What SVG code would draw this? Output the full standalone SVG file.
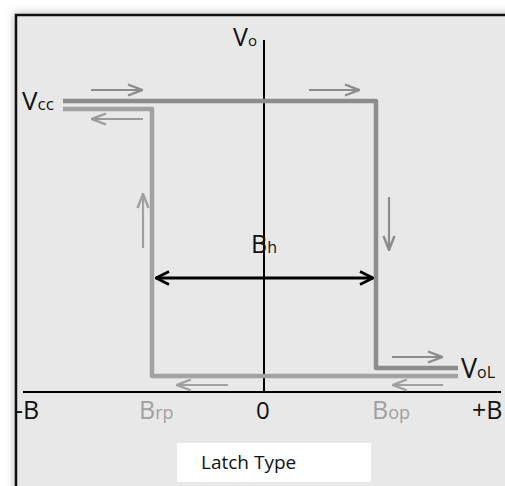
<svg xmlns="http://www.w3.org/2000/svg" width="505" height="486" viewBox="0 0 505 486">
<defs>
<filter id="sh" x="-10%" y="-10%" width="120%" height="120%"><feGaussianBlur stdDeviation="4"/></filter>
<marker id="ga" viewBox="0 0 16 14" refX="15" refY="7" markerWidth="16" markerHeight="14" markerUnits="userSpaceOnUse" orient="auto"><path d="M1,1.5 L15,7 L1,12.5" fill="none" stroke="context-stroke" stroke-width="2.4"/></marker>
<marker id="ba" viewBox="0 0 16 16" refX="15" refY="8" markerWidth="16" markerHeight="16" markerUnits="userSpaceOnUse" orient="auto-start-reverse"><path d="M2,1.5 L15,8 L2,14.5" fill="none" stroke="#000" stroke-width="2.8"/></marker>
<style>
.t{font-family:"Open Sans","Noto Sans","DejaVu Sans",sans-serif;fill:#111;font-weight:500}
.g{fill:#a0a0a0}
.loop{fill:none;stroke-width:4.5;stroke-linejoin:round}
.arr{stroke-width:2.2;fill:none}
</style>
</defs>
<rect x="0" y="0" width="505" height="486" fill="#fff"/>
<rect x="14" y="13" width="500" height="480" fill="#bbb" filter="url(#sh)"/>
<rect x="16" y="15" width="500" height="480" fill="#e8e8e8" stroke="#111" stroke-width="2.5"/>
<g id="axes">
<line x1="264" y1="40" x2="264" y2="392" stroke="#000" stroke-width="2"/>
<line x1="23" y1="392" x2="501" y2="392" stroke="#000" stroke-width="2"/>
</g>
<g id="connectors">
<polyline class="loop" stroke="#8c8c8c" points="63,101 376,101 376,368 458,368"/>
<polyline class="loop" stroke="#a2a2a2" points="63,109 152,109 152,376 458,376"/>
<line class="arr" stroke="#8c8c8c" x1="91" y1="90" x2="142" y2="90" marker-end="url(#ga)"/>
<line class="arr" stroke="#8c8c8c" x1="309" y1="90" x2="359" y2="90" marker-end="url(#ga)"/>
<line class="arr" stroke="#9a9a9a" x1="143" y1="119" x2="92" y2="119" marker-end="url(#ga)"/>
<line class="arr" stroke="#a0a0a0" x1="143" y1="248" x2="143" y2="194" marker-end="url(#ga)"/>
<line class="arr" stroke="#8c8c8c" x1="389" y1="197" x2="389" y2="250" marker-end="url(#ga)"/>
<line class="arr" stroke="#8c8c8c" x1="392" y1="357" x2="442" y2="357" marker-end="url(#ga)"/>
<line class="arr" stroke="#a0a0a0" x1="443" y1="385" x2="393" y2="385" marker-end="url(#ga)"/>
<line class="arr" stroke="#a0a0a0" x1="228" y1="385" x2="177" y2="385" marker-end="url(#ga)"/>
<line x1="156" y1="278" x2="373" y2="278" stroke="#000" stroke-width="3" marker-start="url(#ba)" marker-end="url(#ba)"/>
</g>
<g id="labels">
<text class="t" x="233" y="46" font-size="25">V<tspan font-size="15">o</tspan></text>
<text class="t" x="22" y="110" font-size="26">V<tspan font-size="17">cc</tspan></text>
<text class="t" x="461" y="378" font-size="27">V<tspan font-size="16">oL</tspan></text>
<text class="t" x="251" y="253" font-size="25">B<tspan font-size="16">h</tspan></text>
<text class="t" x="15" y="419" font-size="25">-B</text>
<text class="t g" x="139" y="419" font-size="25">B<tspan font-size="18">rp</tspan></text>
<text class="t" x="256" y="419" font-size="24">0</text>
<text class="t g" x="372" y="419" font-size="25">B<tspan font-size="18">op</tspan></text>
<text class="t" x="472" y="419" font-size="25">+B</text>
</g>
<g id="title">
<rect x="177" y="443" width="194" height="39" fill="#fff"/>
<text class="t" x="201" y="469" font-size="19" fill="#222" font-weight="400">Latch Type</text>
</g>
</svg>
